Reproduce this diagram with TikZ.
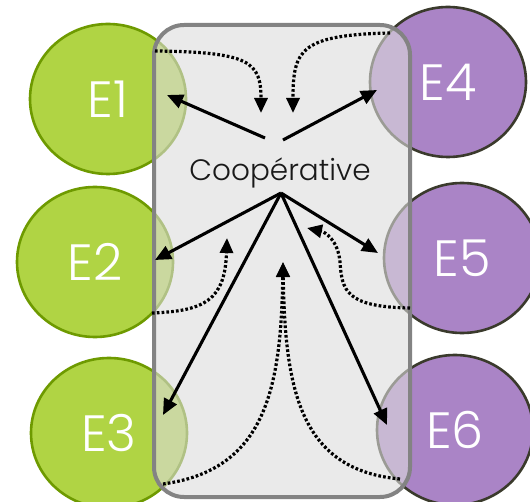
\documentclass[tikz,border=0pt]{standalone}
\usepackage{fontspec}
\setmainfont{Poppins}
\IfFontExistsTF{Poppins Light}{\newfontfamily\fin{Poppins Light}}{\newfontfamily\fin{Poppins}}
\usetikzlibrary{shapes.geometric,arrows.meta}

\definecolor{vert}{HTML}{B0D444}
\definecolor{vertfonce}{HTML}{6E9A00}
\definecolor{mauve}{HTML}{AA84C6}
\definecolor{mauvefonce}{HTML}{3A3A2C}
\definecolor{fond}{HTML}{DCDCDC}
\definecolor{bord}{HTML}{838383}

\tikzset{
    firme/.style={ellipse, minimum width=156pt, minimum height=150pt, line width=2.6pt,
        text=white, font=\fin\fontsize{51}{51}\selectfont},
    fleche/.style={-{Triangle[length=16pt,width=14pt]}, line width=3.1pt},
    pointille/.style={-{Triangle[length=15pt,width=13pt]}, line width=3.2pt,
        dash pattern=on 2.7pt off 2.1pt}
}

\begin{document}
\begin{tikzpicture}[x=1pt,y=-1pt]
    \useasboundingbox (0,0) rectangle (530,502);

    % Member firms, green on the left
    \foreach \n/\x/\y in {E1/108/99,E2/95/262,E3/109/433} {
        \node[firme, fill=vert, draw=vertfonce] (\n) at (\x,\y) {\n};
    }
    % Member firms, purple on the right
    \foreach \n/\x/\y in {E4/448/82,E5/462/258,E6/455/430} {
        \node[firme, fill=mauve, draw=mauvefonce] (\n) at (\x,\y) {\n};
    }

    % Cooperative box
    \draw[bord, line width=4pt, fill=fond, fill opacity=0.6, rounded corners=30pt]
        (154,25) rectangle (410,497);
    \node[text=black!90, font=\fin\fontsize{29.5}{29.5}\selectfont] (coop) at (280,173) {Coopérative};

    % Start and end points of the arrows
    \coordinate (hg) at (265,138);
    \coordinate (hd) at (283,140);
    \coordinate (bas) at (281,193);
    \foreach \n/\x/\y in {t1/167/95,t2/155/260,t3/163/415,t4/377/90,t5/378/253,t6/387/425} {
        \coordinate (\n) at (\x,\y);
    }

    % Coopérative -> firms
    \foreach \a/\b in {hg/t1,hd/t4,bas/t2,bas/t3,bas/t5,bas/t6} {
        \draw[fleche] (\a) -- (\b);
    }

    % Firms -> Coopérative
    \coordinate (r1) at (261,113);
    \coordinate (r4) at (293,113);
    \coordinate (r2) at (227,238);
    \coordinate (r5) at (307,228);
    \coordinate (r36) at (283,262);
    \draw[pointille] (155,51) .. controls (250,52) and (261,62) .. (r1);
    \draw[pointille] (390,33) .. controls (300,35) and (293,50) .. (r4);
    \draw[pointille] (152,313) .. controls (205,311) and (225,300) .. (r2);
    \draw[pointille] (410,308) .. controls (345,307) and (342,290) .. (340,262)
        .. controls (338,240) and (325,232) .. (r5);
    \draw[pointille] (163,484) .. controls (265,470) and (281,390) .. (r36);
    \draw[pointille] (400,479) .. controls (300,470) and (285,390) .. (r36);
\end{tikzpicture}
\end{document}
